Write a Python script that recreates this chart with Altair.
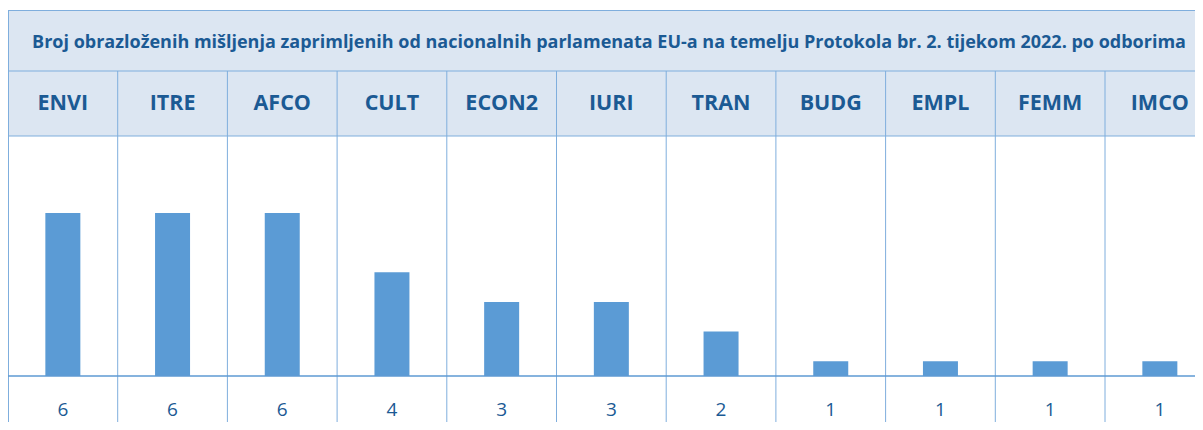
import altair as alt
import pandas as pd

title_text = ("Broj obrazloženih mišljenja zaprimljenih od nacionalnih parlamenata EU-a "
              "na temelju Protokola br. 2. tijekom 2022. po odborima")
committees = ["ENVI", "ITRE", "AFCO", "CULT", "ECON2", "IURI", "TRAN", "BUDG", "EMPL", "FEMM", "IMCO"]
opinions = [6, 6, 6, 4, 3, 3, 2, 1, 1, 1, 1]

df = pd.DataFrame({"committee": committees, "value": opinions})
df["left"] = range(len(committees))
df["mid"] = df["left"] + 0.5

one = pd.DataFrame({"title": [title_text]})

TEXT = "#1B5A94"
BAR = "#5B9BD5"
LINE = "#7FAEDD"
BG = "#DCE6F2"
FONT = "Open Sans"

WIDTH = 1187
COL = 109.7
H = 412
xs = alt.Scale(domain=[0, WIDTH / COL], nice=False, zero=False, padding=0)
ys = alt.Scale(domain=[0.5, 8.6], range=[366, 126], nice=False, zero=False)

base = alt.Chart(df)
single = alt.Chart(one)

title_bg = single.mark_rect(color=BG).encode(
    x=alt.value(0), x2=alt.value(WIDTH), y=alt.value(0), y2=alt.value(126))


def hrule(ypos, color=LINE, sw=1):
    return single.mark_rule(color=color, strokeWidth=sw).encode(
        x=alt.value(0), x2=alt.value(WIDTH), y=alt.value(ypos))


left = single.mark_rule(color=LINE, strokeWidth=1).encode(
    x=alt.value(0.5), y=alt.value(0), y2=alt.value(H))

vlines = base.mark_rule(color=LINE, strokeWidth=1).encode(
    x=alt.X("left:Q", scale=xs, axis=None),
    y=alt.value(61), y2=alt.value(H))

bars = base.mark_bar(color=BAR, size=35).encode(
    x=alt.X("mid:Q", scale=xs, axis=None),
    y=alt.Y("value:Q", scale=ys, axis=None),
    y2=alt.datum(0.5))

title = single.mark_text(font=FONT, fontWeight="bold", fontSize=18, color=TEXT,
                         align="center", baseline="middle").encode(
    x=alt.value(601), y=alt.value(33), text="title:N")

heads = base.mark_text(font=FONT, fontWeight="bold", fontSize=21.5, color=TEXT,
                       baseline="middle").encode(
    x=alt.X("mid:Q", scale=xs, axis=None),
    y=alt.value(94), text="committee:N")

vals = base.mark_text(font=FONT, fontSize=19, color=TEXT, baseline="middle").encode(
    x=alt.X("mid:Q", scale=xs, axis=None),
    y=alt.value(399.5), text="value:Q")

chart = alt.layer(
    title_bg, bars, vlines, left,
    hrule(0.5), hrule(61), hrule(126), hrule(366, "#5E9AD3", 1.5),
    title, heads, vals,
).properties(
    width=WIDTH, height=H,
    padding={"left": 0, "top": 2, "right": 0, "bottom": 0},
    autosize=alt.AutoSizeParams(type="none"),
).configure_view(stroke=None)

chart.save("out.html", embed_options={"renderer": "svg", "actions": False})
